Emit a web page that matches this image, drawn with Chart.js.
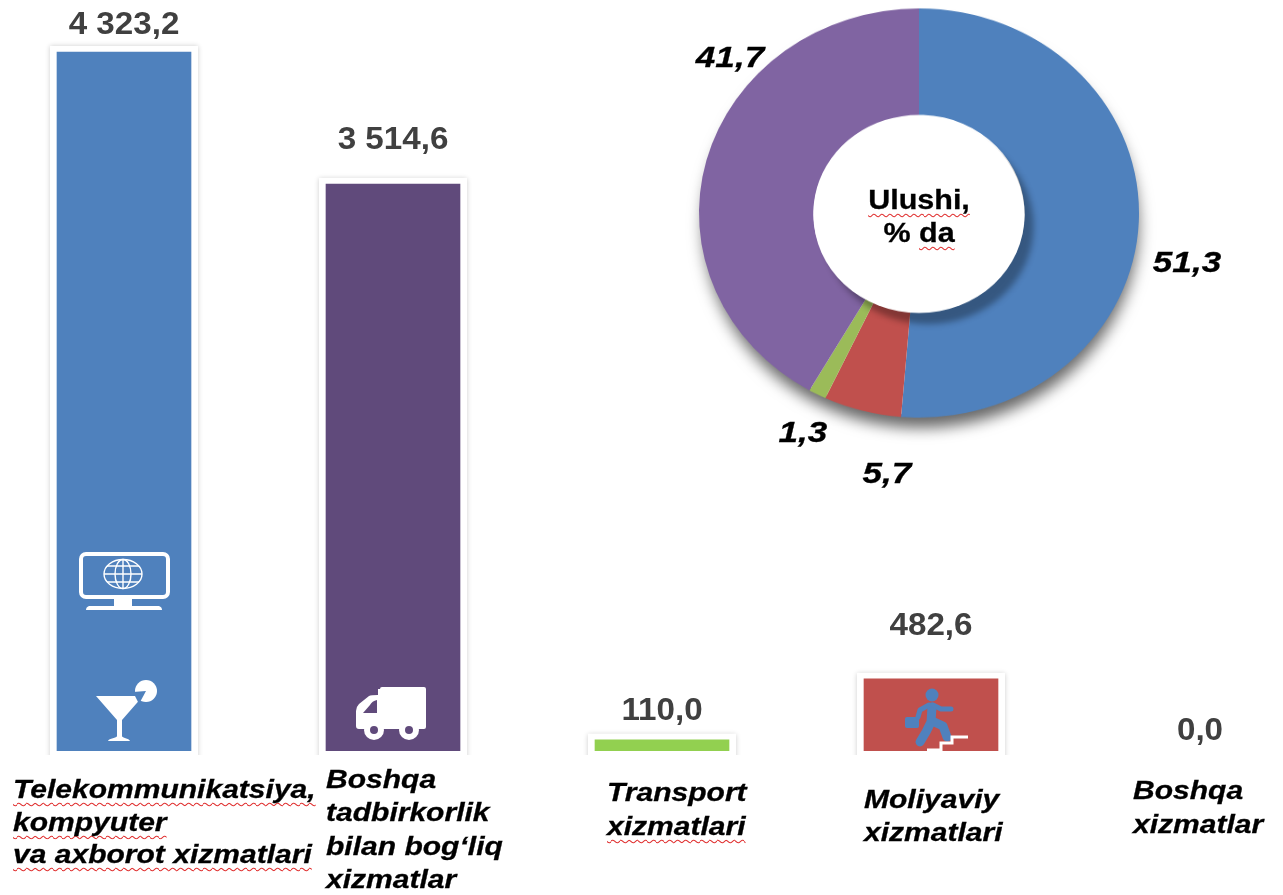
<!DOCTYPE html>
<html>
<head>
<meta charset="utf-8">
<script src="https://cdn.jsdelivr.net/npm/chart.js@4"></script>
<style>
    html, body { margin: 0; padding: 0; background: #fff; width: 1283px; height: 895px; overflow: hidden; }
    #barChart { position: absolute; left: 0; top: 0; }
    #pieWrap { position: absolute; left: 659px; top: -47px; width: 520px; height: 520px; transform: scaleY(0.93); }
    .cat, .pct, .center { position: absolute; font-family: "Liberation Sans", Arial, sans-serif; font-weight: bold; color: #000; white-space: nowrap; -webkit-text-stroke: 0.3px #000; }
    .cat { font-style: italic; font-size: 26px; transform: scaleX(1.155); transform-origin: left top; }
    .pct { font-style: italic; font-size: 30px; transform: translate(-50%, -50%) scaleX(1.17); }
    .center { left: 819px; width: 200px; top: 184px; text-align: center; font-size: 27px; line-height: 33px; transform: scaleX(1.13); }
    .wavy { text-decoration: underline wavy #e03030 1px; text-underline-offset: 4px; text-decoration-skip-ink: none; }
    svg { position: absolute; overflow: visible; }
</style>
</head>
<body>
<canvas id="barChart" width="1283" height="895"></canvas>
<div id="pieWrap"><canvas id="pieChart" width="520" height="520"></canvas></div>

<!-- monitor -->
<svg style="left:79px;top:552px" width="92" height="60" fill="none" stroke="#fff">
    <rect x="2" y="2" width="87" height="43" rx="5" stroke-width="4"/>
    <ellipse cx="44" cy="22" rx="19" ry="14.500" stroke-width="1.4"/>
    <ellipse cx="44" cy="22" rx="8" ry="14.500" stroke-width="1.4"/>
    <path d="M25 22H63M28 14H60M28 30H60M44 8V36" stroke-width="1.4"/>
    <path d="M35 47H53V54H35Z" fill="#fff" stroke="none"/>
    <path d="M10 54H80Q83 55 83 58H7Q7 55 10 54Z" fill="#fff" stroke="none"/>
</svg>
<!-- cocktail -->
<svg style="left:96px;top:680px" width="62" height="62" fill="#fff">
    <path d="M0 16H47L26 40V56C26 58 33 58 34 61H12C13 58 21 58 21 56V40Z"/>
    <circle cx="50" cy="11" r="11"/>
    <path d="M50 11L37 12L43 24Z" fill="#4F81BD"/>
</svg>
<!-- truck -->
<svg style="left:356px;top:687px" width="71" height="53" fill="#fff">
    <path d="M24 2Q24 0 26 0H68Q70 0 70 2V40Q70 42 68 42H3Q0 42 0 39V24Q0 20 3 17L13 9Q15 8 22 8V2Z"/>
    <path d="M21 13V26H7L14 18Q16 14 21 13Z" fill="#604A7B"/>
    <circle cx="18" cy="43" r="10" fill="#fff"/><circle cx="18" cy="43" r="4" fill="#604A7B"/>
    <circle cx="53" cy="43" r="10" fill="#fff"/><circle cx="53" cy="43" r="4" fill="#604A7B"/>
</svg>
<!-- runner on stairs -->
<svg style="left:905px;top:688px" width="66" height="64">
    <circle cx="27" cy="7" r="6.500" fill="#4F81BD"/>
    <rect x="0" y="29" width="14" height="11" rx="2" fill="#4F81BD"/>
    <g fill="none" stroke="#4F81BD" stroke-linecap="round" stroke-linejoin="round">
        <path d="M27 19L26 34L21 44L15 54M27 33L38 38L42 49" stroke-width="9"/>
        <path d="M28 17L36 21H46M24 17L15 22L13 29" stroke-width="5"/>
    </g>
    <path d="M22 62H36V55H47V49H63" fill="none" stroke="#fff" stroke-width="3"/>
</svg>

<script>
// Bar chart data
const categories = [
    ['Telekommunikatsiya,', 'kompyuter', 'va axborot xizmatlari'],
    ['Boshqa', 'tadbirkorlik', 'bilan bog‘liq', 'xizmatlar'],
    ['Transport', 'xizmatlari'],
    ['Moliyaviy', 'xizmatlari'],
    ['Boshqa', 'xizmatlar']
];
const barValues = [4323.2, 3514.6, 110.0, 482.6, 0.0];
const barColors = ['#4F81BD', '#604A7B', '#92D050', '#C0504D', '#FFFFFF'];

// Doughnut data
const shareNames = ['Telekommunikatsiya', 'Moliyaviy', 'Transport', 'Boshqa tadbirkorlik'];
const shareValues = [51.3, 5.7, 1.3, 41.7];
const shareColors = ['#4F81BD', '#C0504D', '#9BBB59', '#8064A2'];

// Layout of hand placed texts
const labelGaps = [27, 44, 28, 52, 0];
const zeroLabelY = 731;
const catBoxes = [[13, 773, 32.5], [326, 763, 33.3], [607, 775, 34], [864, 783, 33], [1133, 773, 34]];
const wavyLines = [[0, 1, 2], [], [1], [], []];
const shareSpots = [[1187, 262], [887, 473], [803, 432], [730, 57]];

const formatValue = v => v.toFixed(1).replace('.', ',').replace(/\B(?=(\d{3})+(?!\d))/g, ' ');

// White frames with a soft edge behind the bars
const barFrames = {
    id: 'barFrames',
    beforeDatasetsDraw(chart) {
        const ctx = chart.ctx;
        ctx.save();
        ctx.beginPath();
        ctx.rect(0, 0, chart.width, chart.chartArea.bottom + 4);
        ctx.clip();
        chart.getDatasetMeta(0).data.forEach((bar, i) => {
            if (barValues[i] <= chart.scales.y.min) return;
            ctx.shadowColor = 'rgba(0,0,0,0.2)';
            ctx.shadowBlur = 5;
            ctx.fillStyle = '#fff';
            ctx.fillRect(bar.x - 74, bar.y - 6, 148, bar.base - bar.y + 30);
        });
        ctx.restore();
    }
};

// Value labels above the bars
const barLabels = {
    id: 'barLabels',
    afterDatasetsDraw(chart) {
        const ctx = chart.ctx;
        ctx.font = 'bold 31px "Liberation Sans", Arial, sans-serif';
        ctx.fillStyle = '#404040';
        ctx.textAlign = 'center';
        ctx.textBaseline = 'middle';
        chart.getDatasetMeta(0).data.forEach((bar, i) => {
            const y = barValues[i] <= chart.scales.y.min ? zeroLabelY : bar.y - labelGaps[i];
            ctx.save();
            ctx.translate(bar.x, y);
            ctx.scale(1.07, 1);
            ctx.fillText(formatValue(barValues[i]), 0, 0);
            ctx.restore();
        });
    }
};

new Chart(document.getElementById('barChart'), {
    type: 'bar',
    data: {
        labels: categories.map(c => c.join(' ')),
        datasets: [{
            data: barValues,
            backgroundColor: barColors,
            barThickness: 134,
            clip: { left: false, right: false, top: false, bottom: 0 }
        }]
    },
    options: {
        responsive: false,
        animation: false,
        layout: { padding: { left: 124, right: 83, top: 52, bottom: 144 } },
        plugins: { legend: { display: false }, tooltip: { enabled: false } },
        scales: {
            x: { display: false, offset: false },
            y: { display: false, min: 41, max: 4323.2 }
        }
    },
    plugins: [barFrames, barLabels]
});

// Shadow under the ring and the raised white centre
const ringShadows = {
    id: 'ringShadows',
    beforeDatasetsDraw(chart) {
        const arc = chart.getDatasetMeta(0).data[0];
        const ctx = chart.ctx;
        ctx.save();
        ctx.shadowColor = 'rgba(0,0,0,0.6)';
        ctx.shadowBlur = 16;
        ctx.shadowOffsetX = 2;
        ctx.shadowOffsetY = 14;
        ctx.fillStyle = '#fff';
        ctx.beginPath();
        ctx.arc(arc.x, arc.y, arc.outerRadius - 3, 0, Math.PI * 2);
        ctx.fill();
        ctx.restore();
    },
    afterDatasetsDraw(chart) {
        const arc = chart.getDatasetMeta(0).data[0];
        const ctx = chart.ctx;
        ctx.save();
        ctx.shadowColor = 'rgba(0,0,0,0.32)';
        ctx.shadowBlur = 6;
        ctx.shadowOffsetX = 9;
        ctx.shadowOffsetY = 12;
        ctx.fillStyle = '#fff';
        ctx.beginPath();
        ctx.arc(arc.x, arc.y + 2, arc.innerRadius, 0, Math.PI * 2);
        ctx.fill();
        ctx.restore();
    }
};

new Chart(document.getElementById('pieChart'), {
    type: 'doughnut',
    data: {
        labels: shareNames,
        datasets: [{ data: shareValues, backgroundColor: shareColors, borderWidth: 0 }]
    },
    options: {
        responsive: false,
        animation: false,
        cutout: '48%',
        layout: { padding: 40 },
        plugins: { legend: { display: false }, tooltip: { enabled: false } }
    },
    plugins: [ringShadows]
});

// Category captions
categories.forEach((lines, i) => {
    const box = document.createElement('div');
    box.className = 'cat';
    box.style.left = catBoxes[i][0] + 'px';
    box.style.top = catBoxes[i][1] + 'px';
    box.style.lineHeight = catBoxes[i][2] + 'px';
    box.innerHTML = lines.map((line, n) =>
        wavyLines[i].includes(n) ? '<span class="wavy">' + line + '</span>' : line
    ).join('<br>');
    document.body.appendChild(box);
});

// Share labels around the ring
shareValues.forEach((v, i) => {
    const el = document.createElement('div');
    el.className = 'pct';
    el.style.left = shareSpots[i][0] + 'px';
    el.style.top = shareSpots[i][1] + 'px';
    el.textContent = formatValue(v);
    document.body.appendChild(el);
});

const center = document.createElement('div');
center.className = 'center';
center.innerHTML = '<span class="wavy">Ulushi,</span><br>% <span class="wavy">da</span>';
document.body.appendChild(center);
</script>
</body>
</html>
